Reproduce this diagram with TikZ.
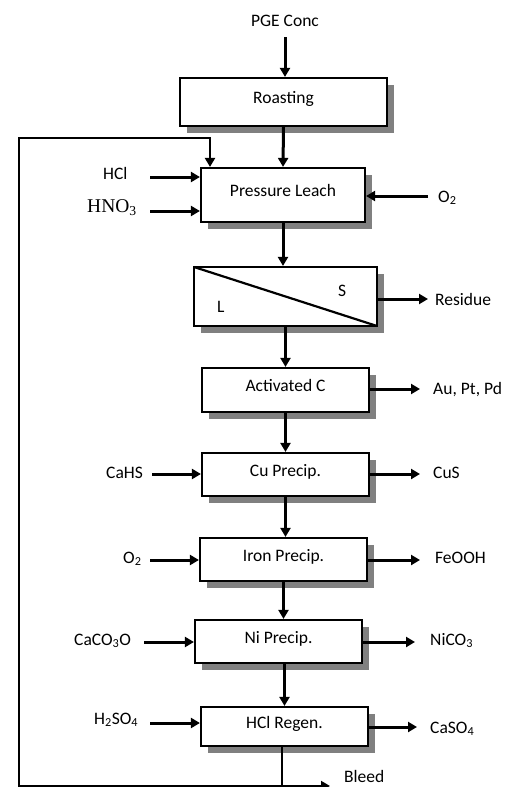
\documentclass[tikz,border=0pt]{standalone}
\usepackage{fontspec}
\setmainfont{Carlito}
\newfontfamily\timesf{Liberation Serif}
\usetikzlibrary{arrows.meta,shadows}
\begin{document}
\begin{tikzpicture}[x=1pt,y=-1pt,
  box/.style={draw, line width=2.2pt, fill=white,
    drop shadow={shadow xshift=7pt, shadow yshift=-7pt, fill=gray, opacity=1},
    inner sep=0pt, text height=6pt, text depth=3pt,
    font=\fontsize{17.5}{20}\selectfont},
  lbl/.style={inner sep=0pt, font=\fontsize{17.5}{20}\selectfont},
  arr/.style={line width=3pt, -{Triangle[length=9pt,width=10pt]}},
  loopline/.style={line width=2.6pt},
  thinline/.style={line width=2pt},
]
\useasboundingbox (0,0) rectangle (521,787);

% boxes
\node[box, minimum width=207pt, minimum height=48pt] (roast) at (283.5,102) {Roasting};
\node[box, minimum width=164pt, minimum height=54pt] (leach) at (283,195) {Pressure Leach};
\node[box, minimum width=183pt, minimum height=59pt] (sep) at (285.5,296.5) {};
\node[box, minimum width=167pt, minimum height=44pt] (act) at (285.5,390) {Activated C};
\node[box, minimum width=167pt, minimum height=43pt] (cu) at (285.5,474.5) {Cu Precip.};
\node[box, minimum width=167pt, minimum height=43pt] (iron) at (283.5,559.5) {Iron Precip.};
\node[box, minimum width=167pt, minimum height=43pt] (ni) at (278.5,641.5) {Ni Precip.};
\node[box, minimum width=167pt, minimum height=39pt] (regen) at (284.5,726.5) {HCl Regen.};

\draw[line width=2.2pt] ([shift={(1.1,1.1)}]sep.north west) -- ([shift={(-1.1,-1.1)}]sep.south east);
\node[lbl, anchor=base west] (s) at (338,296) {S};
\node[lbl, anchor=base west] (l) at (217,312) {L};

% labels
\node[lbl, anchor=base] (pge) at (285,26) {PGE Conc};
\node[lbl, anchor=base west] (hcl) at (103,179) {HCl};
\node[inner sep=0pt, anchor=base west, font=\fontsize{19.5}{22}\timesf] (hno) at (87,212) {HNO\textsubscript{3}};
\node[lbl, anchor=base west] (o2r) at (438,202) {O\textsubscript{2}};
\node[lbl, anchor=base west] (res) at (435,305) {Residue};
\node[lbl, anchor=base west] (au) at (433,394) {Au, Pt, Pd};
\node[lbl, anchor=base west] (cahs) at (106,478) {CaHS};
\node[lbl, anchor=base west] (cus) at (433,478) {CuS};
\node[lbl, anchor=base west] (o2l) at (123,563) {O\textsubscript{2}};
\node[lbl, anchor=base west] (feooh) at (435,563) {FeOOH};
\node[lbl, anchor=base west] (caco) at (74,645) {CaCO\textsubscript{3}O};
\node[lbl, anchor=base west] (nico) at (430,645) {NiCO\textsubscript{3}};
\node[lbl, anchor=base west] (hso) at (94,724) {H\textsubscript{2}SO\textsubscript{4}};
\node[lbl, anchor=base west] (caso) at (430,733) {CaSO\textsubscript{4}};
\node[lbl, anchor=base west] (bleed) at (344,782) {Bleed};

% main vertical flow
\coordinate (pgest) at (285,37);
\draw[arr] (pgest) -- (pgest |- roast.north);
\draw[arr] (roast.south) -- (leach.north);
\draw[arr] (leach.south) -- (leach.south |- sep.north);
\draw[arr] (sep.south) -- (act.north);
\draw[arr] (act.south) -- (cu.north);
\draw[arr] (cu.south) -- (cu.south |- iron.north);
\draw[arr] (iron.south) -- (iron.south |- ni.north);
\draw[arr] (regen.north |- ni.south) -- (regen.north);

% inputs
\coordinate (hclst) at (150,177);
\coordinate (hnost) at (150,211);
\coordinate (o2rst) at (428,196);
\coordinate (cahsst) at (152,474);
\coordinate (o2lst) at (150,560);
\coordinate (cacost) at (144,642);
\coordinate (hsost) at (150,723);
\draw[arr] (hclst) -- (hclst -| leach.west);
\draw[arr] (hnost) -- (hnost -| leach.west);
\draw[arr] (o2rst) -- (o2rst -| leach.east);
\draw[arr] (cahsst) -- (cahsst -| cu.west);
\draw[arr] (o2lst) -- (o2lst -| iron.west);
\draw[arr] (cacost) -- (cacost -| ni.west);
\draw[arr] (hsost) -- (hsost -| regen.west);

% outputs
\coordinate (resend) at (428,299);
\coordinate (auend) at (420,389);
\coordinate (cusend) at (420,474);
\coordinate (feend) at (420,560);
\coordinate (niend) at (415,642);
\coordinate (caend) at (417,727);
\draw[arr] (resend -| sep.east) -- (resend);
\draw[arr] (auend -| act.east) -- (auend);
\draw[arr] (cusend -| cu.east) -- (cusend);
\draw[arr] (feend -| iron.east) -- (feend);
\draw[arr] (niend -| ni.east) -- (niend);
\draw[arr] (caend -| regen.east) -- (caend);

% recycle loop and bleed
\coordinate (junc) at (282,786);
\coordinate (bl) at (19,786);
\coordinate (tl) at (19,138);
\coordinate (tr) at (210,138);
\coordinate (bleedend) at (330,786);
\draw[thinline] (regen.south -| junc) -- (junc);
\draw[loopline, -{Triangle[length=9pt,width=10pt]}] (junc) -- (bl) -- (tl) -- (tr) -- (tr |- leach.north);
\draw[thinline, -{Triangle[length=9pt,width=10pt]}] (junc) -- (bleedend);
\end{tikzpicture}
\end{document}
